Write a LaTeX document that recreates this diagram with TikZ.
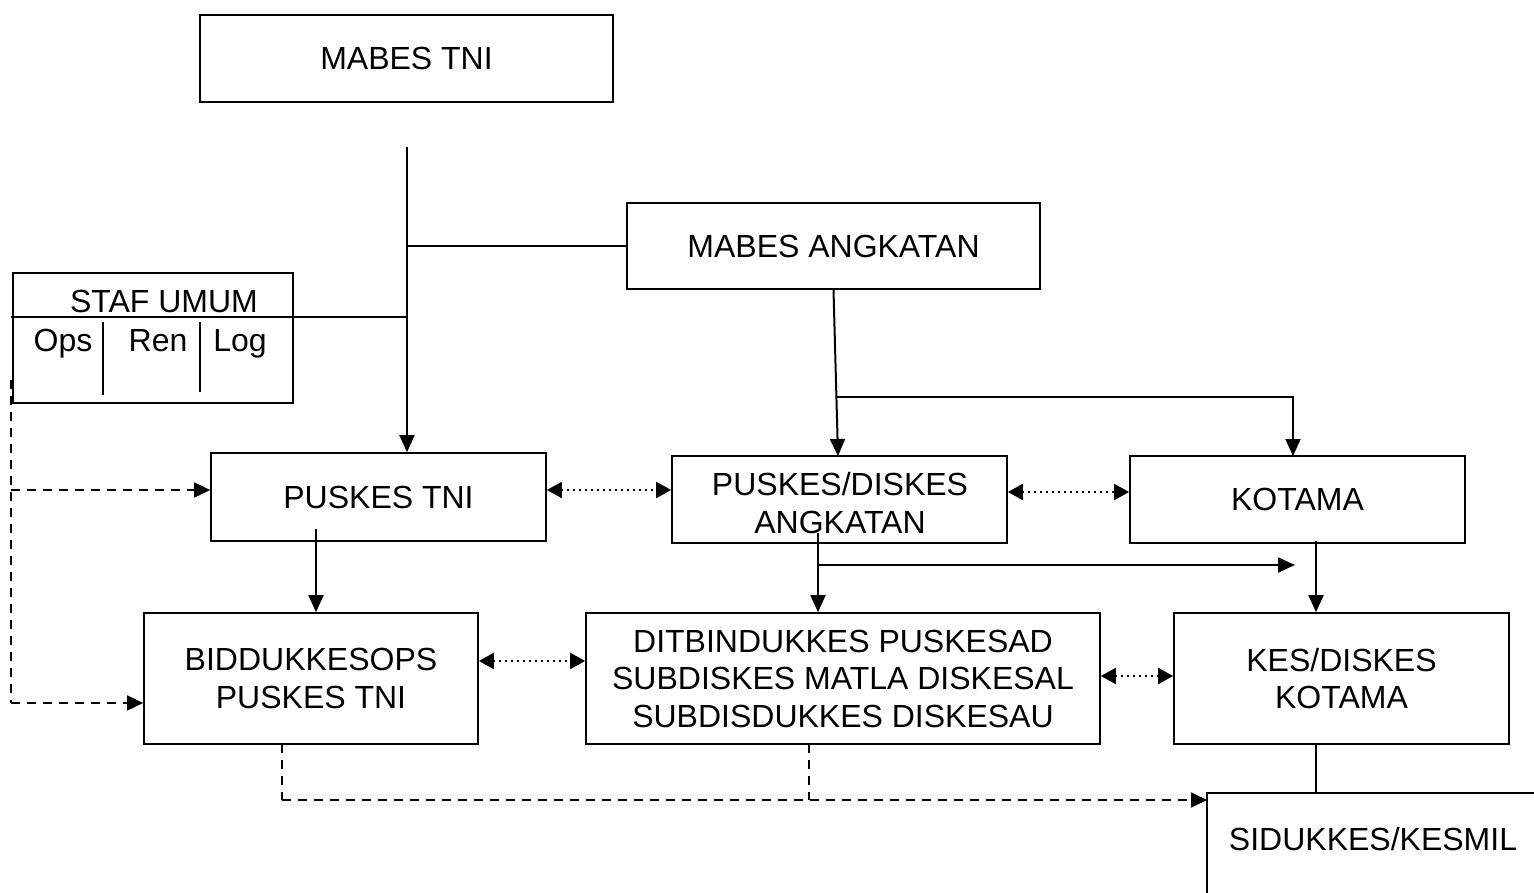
\documentclass[tikz,border=0pt]{standalone}
\usepackage{fontspec}
\setmainfont{Liberation Sans}
\usetikzlibrary{arrows.meta}
\begin{document}
\begin{tikzpicture}[x=1pt,y=-1pt,
  box/.style={draw,line width=1.7pt,rectangle,inner sep=0pt,align=center,
    font=\fontsize{32}{37.5}\selectfont},
  lbl/.style={inner sep=0pt,align=center,font=\fontsize{32}{37.5}\selectfont},
  ln/.style={line width=2pt},
  arr/.style={line width=2pt,-{Triangle[length=17pt,width=15pt]}},
  darr/.style={line width=2pt,dash pattern=on 2pt off 4pt,
    {Triangle[length=15pt,width=16pt]}-{Triangle[length=15pt,width=16pt]}},
  dsh/.style={line width=1.8pt,dash pattern=on 9pt off 7pt},
  dsharr/.style={dsh,-{Triangle[length=16pt,width=15pt]}}]
\useasboundingbox (0,0) rectangle (1534,893);

% boxes
\node[box,minimum width=413pt,minimum height=87pt] (mabestni) at (406.5,58.5) {MABES TNI};
\node[box,minimum width=413pt,minimum height=86pt] (mabesang) at (833.5,246) {MABES ANGKATAN};
\node[box,minimum width=280pt,minimum height=130pt] (staf) at (153,338) {};
\node[lbl] (stafl) at (164,301) {STAF UMUM};
\node[lbl,anchor=base] (ops) at (63,351) {Ops};
\node[lbl,anchor=base] (ren) at (158,351) {Ren};
\node[lbl,anchor=base] (log) at (240,351) {Log};
\node[box,minimum width=335pt,minimum height=88pt] (puskestni) at (378.5,497) {PUSKES TNI};
\node[box,minimum width=335pt,minimum height=87pt] (puskesang) at (839.5,499.5) {};
\node[lbl] (puskesangl) at (840,503) {PUSKES/DISKES\\ANGKATAN};
\node[box,minimum width=335pt,minimum height=87pt] (kotama) at (1297.5,499.5) {KOTAMA};
\node[box,minimum width=334pt,minimum height=131pt] (bidd) at (311,678.5) {BIDDUKKESOPS\\PUSKES TNI};
\node[box,minimum width=514pt,minimum height=131pt] (ditbin) at (843,678.5) {DITBINDUKKES PUSKESAD\\SUBDISKES MATLA DISKESAL\\SUBDISDUKKES DISKESAU};
\node[box,minimum width=335pt,minimum height=131pt] (kes) at (1341.5,678.5) {KES/DISKES\\KOTAMA};
\node[lbl] (sid) at (1373,839) {SIDUKKES/KESMIL};
\coordinate (sidtl) at (1207,793);
\draw[line width=1.7pt] (1207,893) -- (sidtl) -- (1534,793);

% staf umum dividers
\coordinate (stafdl) at (11,317);
\coordinate (trunk) at (407,147);
\draw[ln] (stafdl) -- (trunk |- stafdl);
\draw[ln] (103,322) -- (103,395);
\draw[ln] (200,322) -- (200,392);

% MABES TNI trunk
\draw[arr] (trunk) -- (trunk |- puskestni.north);
\draw[ln] (mabesang.west) -- (mabesang.west -| trunk);

% MABES ANGKATAN
\coordinate (angin) at (838,456);
\draw[arr] (mabesang.south) -- (angin);
\coordinate (br) at (836,397);
\coordinate (kotin) at (1293,456);
\draw[arr] (br) -| (kotin);

% dotted double arrows
\draw[darr] (puskestni.east |- 0,490) -- (puskesang.west |- 0,490);
\draw[darr] (puskesang.east |- 0,492) -- (kotama.west |- 0,492);
\draw[darr] (bidd.east |- 0,661) -- (ditbin.west |- 0,661);
\draw[darr] (ditbin.east |- 0,676) -- (kes.west |- 0,676);

% downward arrows
\coordinate (p1) at (316,529);
\draw[arr] (p1) -- (p1 |- bidd.north);
\coordinate (p2) at (818,533);
\draw[arr] (p2) -- (p2 |- ditbin.north);
\coordinate (p2r) at (818,565);
\coordinate (p2e) at (1295,565);
\draw[arr] (p2r) -- (p2e);
\coordinate (p3) at (1316,541);
\draw[arr] (p3) -- (p3 |- kes.north);
\coordinate (p4) at (1316,744);
\draw[ln] (p4) -- (p4 |- sidtl);

% dashed from STAF UMUM
\coordinate (dl1) at (11,380);
\coordinate (dl2) at (11,703);
\draw[dsh] (dl1) -- (dl2);
\draw[dsharr] (11,490) -- (puskestni.west |- 0,490);
\draw[dsharr] (dl2) -- (bidd.west |- dl2);

% dashed bottom
\coordinate (b1) at (282,744);
\coordinate (b2) at (809,744);
\draw[dsh] (b1) -- (282,800);
\draw[dsh] (b2) -- (809,800);
\draw[dsharr] (282,800) -- (sidtl |- 0,800);
\end{tikzpicture}
\end{document}
